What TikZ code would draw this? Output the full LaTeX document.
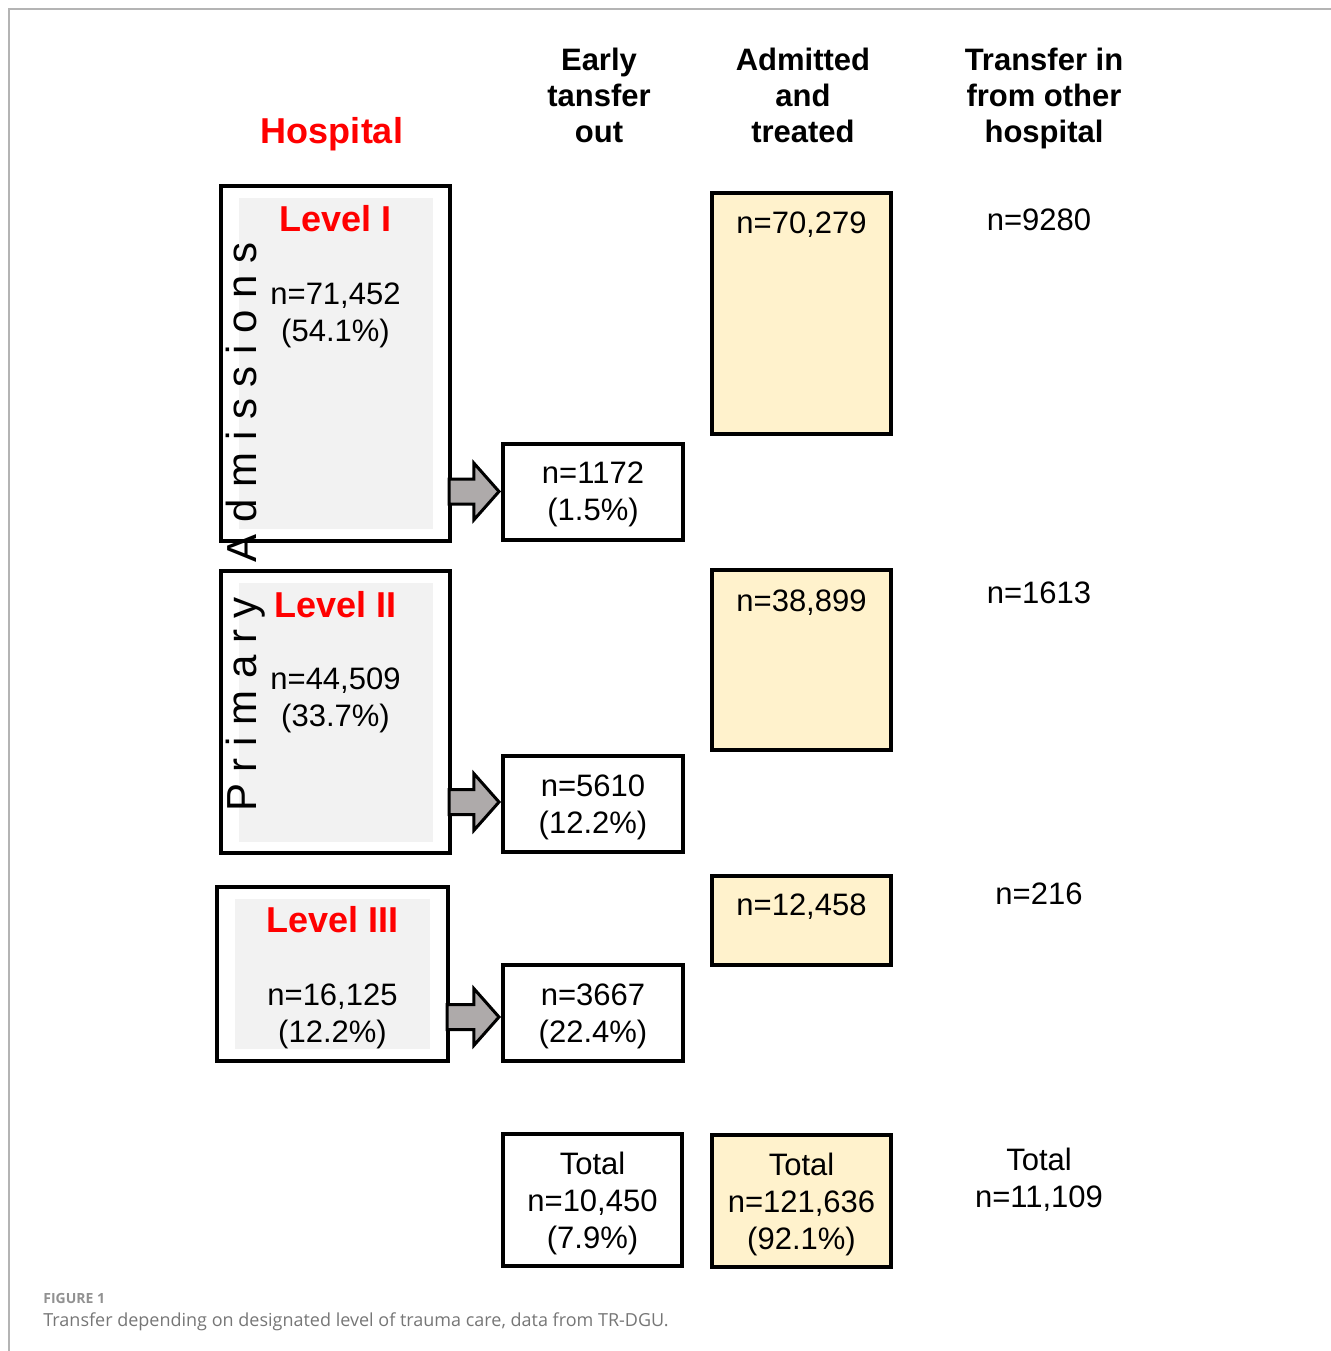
\documentclass[tikz,border=0pt]{standalone}
\usepackage{fontspec}
\setmainfont{Liberation Sans}
\newfontfamily\capfont{Open Sans}
\usetikzlibrary{positioning, shapes.arrows}
\definecolor{lvlred}{HTML}{FF0000}
\definecolor{panel}{HTML}{F2F2F2}
\definecolor{cream}{HTML}{FFF2CC}
\definecolor{arrowgray}{HTML}{AEAAAA}
\definecolor{framegray}{HTML}{B4B4B4}
\definecolor{capgray}{HTML}{767676}
\tikzset{
  % Column headers
  colhead/.style={font=\bfseries\fontsize{15.5}{18}\selectfont, align=center, text depth=0pt},
  hosphead/.style={font=\bfseries\fontsize{18}{21}\selectfont, text=lvlred, text depth=0pt},
  % Hospital level boxes
  lvlbox/.style={draw=black, line width=2pt, fill=white, minimum width=114.5pt},
  lvlpanel/.style={fill=panel, minimum width=97pt},
  lvltitle/.style={font=\bfseries\fontsize{18}{21}\selectfont, text=lvlred},
  sidelabel/.style={font=\fontsize{21}{24}\selectfont, rotate=90},
  % Count boxes
  count/.style={font=\fontsize{15.5}{18.5}\selectfont, align=center, inner sep=0pt,
                text depth=0pt},
  outbox/.style={draw=black, line width=2pt, fill=white,
                 minimum width=90pt, minimum height=48pt},
  treatbox/.style={draw=black, line width=2pt, fill=cream, minimum width=89.5pt},
  % Transfer arrows
  xferarrow/.style={single arrow, draw=black, line width=1.5pt, fill=arrowgray,
                    inner xsep=0pt, inner ysep=5.5pt, minimum width=0pt,
                    single arrow head extend=8pt, single arrow tip angle=97},
  % Caption
  frameline/.style={draw=framegray, line width=1pt},
  capfig/.style={font=\capfont\bfseries\fontsize{7}{8}\selectfont, text=capgray!80, inner sep=0pt},
  captxt/.style={font=\capfont\fontsize{9}{11}\selectfont, text=capgray, inner sep=0pt},
}

\begin{document}
\begin{tikzpicture}[x=0.5pt, y=-0.5pt]
\useasboundingbox (0,0) rectangle (1331,1351);
\draw[frameline] (1331,9) -- (9,9) -- (9,1351);

% ====================================================================
% Headers
% ====================================================================
\node[hosphead] (hosp) at (332,130) {Hospital};
\node[colhead] (earlyhd) at (599,95) {Early\\tansfer\\out};
\node[colhead] (admhd) at (803,95) {Admitted\\and\\treated};
\node[colhead] (xferhd) at (1044,95) {Transfer in\\from other\\hospital};

% ====================================================================
% Hospital levels
% ====================================================================
\node[lvlbox, minimum height=177.5pt] (lvl1) at (335.5,363.5) {};
\node[lvlpanel, minimum height=165.5pt] (lvl1bg) at (lvl1.center) {};
\node[lvltitle] (lvl1title) at ([yshift=-17.5pt] lvl1.north) {Level I};
\node[count] (lvl1n) at ([yshift=-64pt] lvl1.north) {n=71,452\\(54.1\%)};

\node[lvlbox, minimum height=141pt] (lvl2) at (335.5,712) {};
\node[lvlpanel, minimum height=129.5pt] (lvl2bg) at (lvl2.center) {};
\node[lvltitle] (lvl2title) at ([yshift=-18pt] lvl2.north) {Level II};
\node[count] (lvl2n) at ([yshift=-64pt] lvl2.north) {n=44,509\\(33.7\%)};

\node[lvlbox, minimum width=115.5pt, minimum height=87pt] (lvl3) at (332.5,974) {};
\node[lvlpanel, minimum width=97.5pt, minimum height=75pt] (lvl3bg) at (lvl3.center) {};
\node[lvltitle] (lvl3title) at ([yshift=-17.5pt] lvl3.north) {Level III};
\node[count] (lvl3n) at ([yshift=-64pt] lvl3.north) {n=16,125\\(12.2\%)};

\node[sidelabel] (primlabel) at (246,527) {P r i m a r y \ \ A d m i s s i o n s};

% ====================================================================
% Early transfer out
% ====================================================================
\node[outbox, count] (out1) at (593,491.5) {n=1172\\(1.5\%)};
\node[outbox, count] (out2) at (593,804) {n=5610\\(12.2\%)};
\node[outbox, count] (out3) at (593,1013) {n=3667\\(22.4\%)};
\node[outbox, count, minimum width=89.5pt, minimum height=66pt] (outtot)
  at (592.5,1200) {Total\\n=10,450\\(7.9\%)};

\node[xferarrow, minimum height=25pt, anchor=tip] (arr1) at (out1.west) {};
\node[xferarrow, minimum height=25pt, anchor=tip] (arr2) at ([yshift=1pt] out2.west) {};
\node[xferarrow, minimum height=26pt, anchor=tip] (arr3) at ([yshift=-2pt] out3.west) {};

% ====================================================================
% Admitted and treated
% ====================================================================
\node[treatbox, minimum height=120.5pt] (adm1) at (801.5,313.5) {};
\node[count] (adm1n) at ([yshift=-16pt] adm1.north) {n=70,279};
\node[treatbox, minimum height=90pt] (adm2) at (801.5,660) {};
\node[count] (adm2n) at ([yshift=-16.5pt] adm2.north) {n=38,899};
\node[treatbox, minimum height=44.5pt] (adm3) at (801.5,920.5) {};
\node[count] (adm3n) at ([yshift=-15.5pt] adm3.north) {n=12,458};
\node[treatbox, count, minimum height=66pt] (admtot)
  at (801.5,1201) {Total\\n=121,636\\(92.1\%)};

% ====================================================================
% Transfer in
% ====================================================================
\node[count] (xin1) at (1039,220) {n=9280};
\node[count] (xin2) at (1039,593) {n=1613};
\node[count] (xin3) at (1039,894) {n=216};
\node[count] (xintot) at (1039,1178) {Total\\n=11,109};

% ====================================================================
% Caption
% ====================================================================
\node[capfig, anchor=base west] (fignum) at (43,1303) {FIGURE 1};
\node[captxt, anchor=base west] (figcap) at (43,1326)
  {Transfer depending on designated level of trauma care, data from TR-DGU.};

\end{tikzpicture}
\end{document}
